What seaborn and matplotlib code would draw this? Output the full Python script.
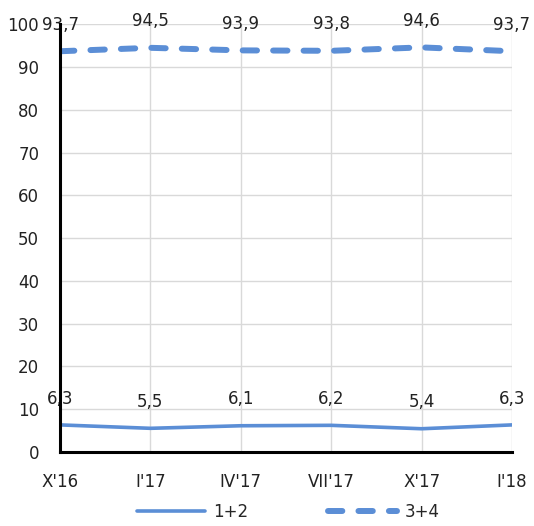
import pandas as pd
import seaborn as sns
import matplotlib.pyplot as plt

# Dane z wykresu
okresy = ["X'16", "I'17", "IV'17", "VII'17", "X'17", "I'18"]
seria_12 = [6.3, 5.5, 6.1, 6.2, 5.4, 6.3]
seria_34 = [93.7, 94.5, 93.9, 93.8, 94.6, 93.7]
nazwy = ["1+2", "3+4"]

kolor = '#5B8ED6'

df = pd.DataFrame({
    'x': list(range(len(okresy))) * 2,
    'wartosc': seria_12 + seria_34,
    'seria': [nazwy[0]] * len(okresy) + [nazwy[1]] * len(okresy),
})

sns.set_style("whitegrid")
plt.rcParams['font.family'] = ['DejaVu Sans']

fig = plt.figure(figsize=(5.34, 5.26), dpi=100)
ax = fig.add_axes([0.1124, 0.141, 0.8464, 0.8128])

sns.lineplot(data=df[df['seria'] == nazwy[0]], x='x', y='wartosc', ax=ax,
             color=kolor, lw=2.6, label=nazwy[0])
sns.lineplot(data=df[df['seria'] == nazwy[1]], x='x', y='wartosc', ax=ax,
             color=kolor, lw=4.3, label=nazwy[1])
linia = ax.get_lines()[1]
linia.set_linestyle((0, (2.4, 2.7)))
linia.set_dash_capstyle('round')

# Etykiety danych
for seria in (seria_12, seria_34):
    for i, v in enumerate(seria):
        ax.annotate(f"{v:.1f}".replace('.', ','), (i, v), xytext=(0, 19),
                    textcoords='offset points', ha='center', va='center',
                    fontsize=12, color='#222222')

ax.set_xlim(0, len(okresy) - 1)
ax.set_ylim(0, 100)
ax.set_yticks(range(0, 101, 10))
ax.set_xticks(range(len(okresy)))
ax.set_xticklabels(okresy)
ax.set_xlabel('')
ax.set_ylabel('')
ax.tick_params(axis='y', labelsize=12, pad=15, length=0, labelcolor='#222222')
ax.tick_params(axis='x', labelsize=12, pad=15, length=0, labelcolor='#222222')
ax.grid(True, color='#D9D9D9', lw=1)

for s in ['top', 'right']:
    ax.spines[s].set_visible(False)
for s in ['left', 'bottom']:
    ax.spines[s].set_color('black')
    ax.spines[s].set_linewidth(2.2)
    ax.spines[s].set_zorder(5)

ax.get_legend().remove()
h, l = ax.get_legend_handles_labels()
fig.legend(h, l, loc='lower center', bbox_to_anchor=(0.54, 0.0), ncol=2,
           frameon=False, fontsize=12, handlelength=4.1, handletextpad=0.5,
           columnspacing=4.8, borderaxespad=0.1, borderpad=0.2)

fig.savefig('out.png', dpi=100)
